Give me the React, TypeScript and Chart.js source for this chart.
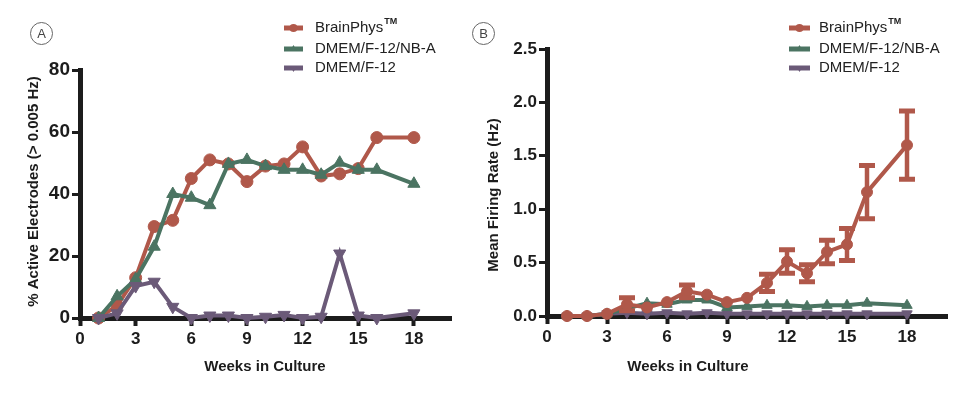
import React, { useEffect, useRef } from "react";
import { Chart, registerables } from "chart.js";

Chart.register(...registerables);

// ---------- data ----------
const weeks = [1, 2, 3, 4, 5, 6, 7, 8, 9, 10, 11, 12, 13, 14, 15, 16, 18];
const xTicks = [0, 3, 6, 9, 12, 15, 18];
const activeYTicks = [0, 20, 40, 60, 80];
const firingYTicks = [0, 0.5, 1.0, 1.5, 2.0, 2.5];
const seriesNames = ["BrainPhys", "DMEM/F-12/NB-A", "DMEM/F-12"];

const activeBrainPhys = [0, 4, 13, 29.5, 31.5, 45, 51, 49.7, 44, 49, 49.7, 55.2, 45.8, 46.5, 48.2, 58.2, 58.2];
const activeNBA = [0, 7, 12.5, 23, 40, 38.8, 36.4, 49.7, 51, 49, 47.8, 47.8, 46.2, 50.1, 47.8, 47.8, 43.3];
const activeDMEM = [0, 1.5, 10.3, 11.7, 3.6, 0, 0.8, 0.8, 0, 0.4, 1, 0, 0.4, 20.8, 0.8, 0, 1.5];

const firingBrainPhys = [0, 0, 0.02, 0.11, 0.08, 0.13, 0.23, 0.2, 0.13, 0.17, 0.31, 0.51, 0.4, 0.6, 0.67, 1.16, 1.6];
const firingBrainPhysErr = [0, 0, 0, 0.06, 0, 0, 0.06, 0, 0, 0, 0.08, 0.11, 0.08, 0.11, 0.15, 0.25, 0.32];
const firingNBA = [0, 0, 0.02, 0.07, 0.12, 0.11, 0.15, 0.15, 0.08, 0.09, 0.1, 0.1, 0.09, 0.1, 0.1, 0.12, 0.1];
const firingDMEM = [0, 0, 0.02, 0.03, 0.02, 0.03, 0.02, 0.03, 0.02, 0.02, 0.02, 0.02, 0.02, 0.02, 0.02, 0.02, 0.02];

// ---------- styles ----------
const RED = "#b0584a";
const GREEN = "#4b7462";
const PURPLE = "#6b5a78";
const INK = "#1c1c1c";
const FONT = '"Liberation Sans", Arial, Helvetica, sans-serif';
const H = 397;

function drawMarker(ctx: CanvasRenderingContext2D, kind: string, x: number, y: number, r: number) {
  ctx.beginPath();
  if (kind === "circle") {
    ctx.arc(x, y, r, 0, Math.PI * 2);
  } else if (kind === "up") {
    ctx.moveTo(x, y - r);
    ctx.lineTo(x + r * 0.87, y + r * 0.5);
    ctx.lineTo(x - r * 0.87, y + r * 0.5);
    ctx.closePath();
  } else {
    ctx.moveTo(x, y + r);
    ctx.lineTo(x + r * 0.87, y - r * 0.5);
    ctx.lineTo(x - r * 0.87, y - r * 0.5);
    ctx.closePath();
  }
  ctx.fill();
}

const decorPlugin = {
  id: "decor",
  afterDraw(chart: any, _args: any, opts: any) {
    const ctx: CanvasRenderingContext2D = chart.ctx;
    ctx.save();
    // circled panel letter
    ctx.beginPath();
    ctx.arc(opts.letterX, opts.letterY, 11, 0, Math.PI * 2);
    ctx.lineWidth = 1;
    ctx.strokeStyle = "#666";
    ctx.stroke();
    ctx.font = `13px ${FONT}`;
    ctx.fillStyle = "#444";
    ctx.textAlign = "center";
    ctx.textBaseline = "middle";
    ctx.fillText(opts.letter, opts.letterX, opts.letterY + 1);

    // legend
    const colors = [RED, GREEN, PURPLE];
    const kinds = ["circle", "up", "down"];
    seriesNames.forEach((name, i) => {
      const y = opts.legendYs[i];
      ctx.strokeStyle = colors[i];
      ctx.fillStyle = colors[i];
      ctx.lineWidth = 5;
      ctx.beginPath();
      ctx.moveTo(opts.legendX1, y);
      ctx.lineTo(opts.legendX2, y);
      ctx.stroke();
      drawMarker(ctx, kinds[i], (opts.legendX1 + opts.legendX2) / 2, y, 4);
      ctx.fillStyle = "#222";
      ctx.font = `15px ${FONT}`;
      ctx.textAlign = "left";
      ctx.textBaseline = "middle";
      ctx.fillText(name, opts.legendTextX, y);
      if (i === 0) {
        const w = ctx.measureText(name).width;
        ctx.font = `bold 9px ${FONT}`;
        ctx.fillText("TM", opts.legendTextX + w + 1, y - 6);
      }
    });

    // axis titles
    ctx.fillStyle = INK;
    ctx.font = `bold 15px ${FONT}`;
    ctx.textAlign = "center";
    ctx.textBaseline = "middle";
    ctx.fillText(opts.xTitle, opts.xTitleX, opts.xTitleY);
    ctx.save();
    ctx.translate(opts.yTitleX, opts.yTitleY);
    ctx.rotate(-Math.PI / 2);
    ctx.fillText(opts.yTitle, 0, 0);
    ctx.restore();
    ctx.restore();
  },
};

const errorBarPlugin = {
  id: "errorBars",
  afterDatasetsDraw(chart: any, _args: any, opts: any) {
    if (!opts || !opts.errors) return;
    const ctx: CanvasRenderingContext2D = chart.ctx;
    const xs = chart.scales.x;
    const ys = chart.scales.y;
    const ds = chart.data.datasets[opts.datasetIndex];
    ctx.save();
    ctx.strokeStyle = opts.color;
    ctx.lineCap = "butt";
    ds.data.forEach((p: any, i: number) => {
      const e = opts.errors[i];
      if (!e) return;
      const px = xs.getPixelForValue(p.x);
      const top = ys.getPixelForValue(p.y + e);
      const bot = ys.getPixelForValue(Math.max(0, p.y - e));
      ctx.lineWidth = 4.5;
      ctx.beginPath();
      ctx.moveTo(px, top);
      ctx.lineTo(px, bot);
      ctx.stroke();
      ctx.lineWidth = 5;
      ctx.beginPath();
      ctx.moveTo(px - opts.cap / 2, top);
      ctx.lineTo(px + opts.cap / 2, top);
      ctx.moveTo(px - opts.cap / 2, bot);
      ctx.lineTo(px + opts.cap / 2, bot);
      ctx.stroke();
    });
    ctx.restore();
  },
};

function series(label: string, vals: number[], color: string, kind: string, r: number, order: number) {
  return {
    label,
    data: weeks.map((w, i) => ({ x: w, y: vals[i] })),
    borderColor: color,
    backgroundColor: color,
    pointBackgroundColor: color,
    pointBorderColor: color,
    pointBorderWidth: 1,
    borderWidth: 4,
    pointRadius: r,
    pointStyle: kind === "circle" ? "circle" : "triangle",
    pointRotation: kind === "down" ? 180 : 0,
    tension: 0,
    clip: false as any,
    order,
  };
}

function scales(yTicks: number[], yMax: number, yWidth: number, xHeight: number, yFontSize: number, decimals: number) {
  return {
    x: {
      type: "linear" as const,
      min: 0,
      max: 20,
      afterBuildTicks: (s: any) => {
        s.ticks = xTicks.map((v) => ({ value: v }));
      },
      afterFit: (s: any) => {
        s.height = xHeight;
      },
      ticks: {
        font: { family: FONT, size: 17, weight: "bold" as const },
        color: INK,
        padding: 3,
        autoSkip: false,
        maxRotation: 0,
      },
      grid: { display: true, drawOnChartArea: false, drawTicks: true, tickLength: 8, tickWidth: 4, tickColor: INK, color: INK },
      border: { display: true, width: 5, color: INK },
    },
    y: {
      type: "linear" as const,
      min: 0,
      max: yMax,
      afterBuildTicks: (s: any) => {
        s.ticks = yTicks.map((v) => ({ value: v }));
      },
      afterFit: (s: any) => {
        s.width = yWidth;
      },
      ticks: {
        font: { family: FONT, size: yFontSize, weight: "bold" as const },
        color: INK,
        padding: 2,
        callback: (v: any) => Number(v).toFixed(decimals),
      },
      grid: { display: true, drawOnChartArea: false, drawTicks: true, tickLength: 8, tickWidth: 3, tickColor: INK, color: INK },
      border: { display: true, width: 5, color: INK },
    },
  };
}

const leftW = 465;
const rightW = 506;

function leftConfig(): any {
  return {
    type: "line",
    data: {
      datasets: [
        series(seriesNames[0], activeBrainPhys, RED, "circle", 6, 2),
        series(seriesNames[1], activeNBA, GREEN, "up", 7, 1),
        series(seriesNames[2], activeDMEM, PURPLE, "down", 7, 0),
      ],
    },
    options: {
      responsive: false,
      animation: false,
      layout: { padding: { left: 0, top: 70, right: leftW - 451, bottom: 0 } },
      scales: scales(activeYTicks, 80, 80, H - 318, 19, 0),
      plugins: {
        legend: { display: false },
        tooltip: { enabled: false },
        decor: {
          letter: "A",
          letterX: 41.5,
          letterY: 33.5,
          legendX1: 284,
          legendX2: 303,
          legendTextX: 315,
          legendYs: [28, 49, 68],
          xTitle: "Weeks in Culture",
          xTitleX: 265,
          xTitleY: 367,
          yTitle: "% Active Electrodes (> 0.005 Hz)",
          yTitleX: 34,
          yTitleY: 191.5,
        },
      },
    },
    plugins: [decorPlugin],
  };
}

function rightConfig(): any {
  return {
    type: "line",
    data: {
      datasets: [
        series(seriesNames[0], firingBrainPhys, RED, "circle", 5.5, 0),
        series(seriesNames[1], firingNBA, GREEN, "up", 6, 1),
        series(seriesNames[2], firingDMEM, PURPLE, "down", 6, 2),
      ],
    },
    options: {
      responsive: false,
      animation: false,
      layout: { padding: { left: 0, top: 49, right: rightW - 482, bottom: 0 } },
      scales: scales(firingYTicks, 2.5, 82, H - 316, 17, 1),
      plugins: {
        legend: { display: false },
        tooltip: { enabled: false },
        errorBars: { datasetIndex: 0, errors: firingBrainPhysErr, color: RED, cap: 16 },
        decor: {
          letter: "B",
          letterX: 18.5,
          letterY: 33.5,
          legendX1: 324,
          legendX2: 345,
          legendTextX: 354,
          legendYs: [28, 49, 68],
          xTitle: "Weeks in Culture",
          xTitleX: 223,
          xTitleY: 367,
          yTitle: "Mean Firing Rate (Hz)",
          yTitleX: 29,
          yTitleY: 195,
        },
      },
    },
    plugins: [errorBarPlugin, decorPlugin],
  };
}

function ChartCanvas({ make, left, width }: { make: () => any; left: number; width: number }) {
  const ref = useRef<HTMLCanvasElement>(null);
  useEffect(() => {
    const chart = new Chart(ref.current as HTMLCanvasElement, make());
    return () => chart.destroy();
  }, []);
  return (
    <canvas
      ref={ref}
      width={width}
      height={H}
      style={{ position: "absolute", left, top: 0, width, height: H }}
    />
  );
}

export default function App() {
  return (
    <div style={{ position: "absolute", left: 0, top: 0, width: 971, height: H, background: "#fff", overflow: "hidden" }}>
      <ChartCanvas make={leftConfig} left={0} width={leftW} />
      <ChartCanvas make={rightConfig} left={leftW} width={rightW} />
    </div>
  );
}
